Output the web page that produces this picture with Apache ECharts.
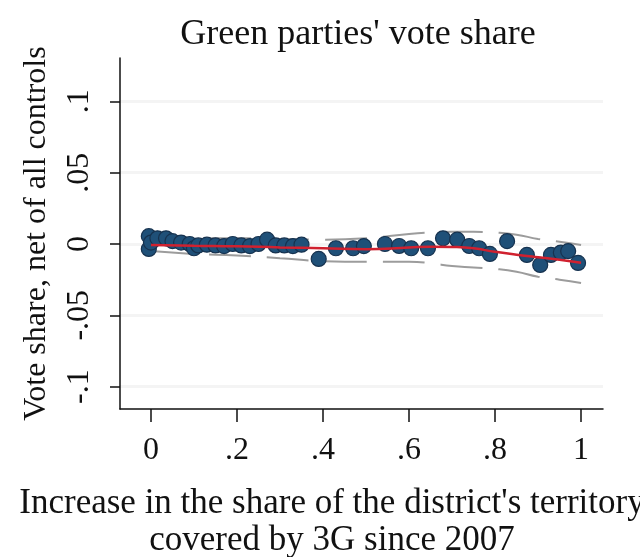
<!DOCTYPE html>
<html>
<head>
<meta charset="utf-8">
<script src="https://cdn.jsdelivr.net/npm/echarts@6/dist/echarts.min.js"></script>
<style>
html,body{margin:0;padding:0;background:#fff;}
#chart{width:640px;height:557px;}
</style>
</head>
<body>
<div id="chart"></div>
<script>
// Binned residual vote share vs. increase in 3G coverage
const pointX = [-0.005, -0.005, 0.0, 0.015, 0.035, 0.05, 0.07, 0.09, 0.1, 0.11, 0.13, 0.15, 0.17, 0.19, 0.21, 0.23, 0.25, 0.27, 0.29, 0.31, 0.33, 0.35, 0.39, 0.43, 0.47, 0.495, 0.544, 0.577, 0.605, 0.644, 0.679, 0.712, 0.74, 0.763, 0.788, 0.828, 0.874, 0.905, 0.93, 0.953, 0.97, 0.993];
const pointY = [0.0055, -0.0035, 0.001, 0.004, 0.004, 0.002, 0.001, 0.0, -0.003, -0.001, -0.0005, -0.001, -0.0015, 0.0, -0.001, -0.0015, 0.0, 0.003, -0.001, -0.001, -0.0015, -0.0005, -0.0105, -0.003, -0.003, -0.0015, 0.0, -0.0014, -0.003, -0.003, 0.004, 0.003, -0.0014, -0.003, -0.007, 0.002, -0.0077, -0.0147, -0.0077, -0.006, -0.005, -0.0133];

// Local fit and its confidence band
const fitX = [0, 0.1, 0.2, 0.3, 0.4, 0.5, 0.6, 0.65, 0.7, 0.75, 0.8, 0.85, 0.9, 0.95, 1.0];
const fitY = [-0.0007, -0.0012, -0.0016, -0.0024, -0.003, -0.0037, -0.0025, -0.0019, -0.0021, -0.003, -0.0055, -0.0075, -0.0093, -0.011, -0.0131];
const ciUpper = [0.004, 0.004, 0.004, 0.0035, 0.003, 0.004, 0.007, 0.008, 0.0085, 0.0085, 0.008, 0.0065, 0.0035, 0.0015, -0.0007];
const ciLower = [-0.005, -0.007, -0.008, -0.010, -0.012, -0.0125, -0.0125, -0.0135, -0.0155, -0.0165, -0.0175, -0.0195, -0.023, -0.025, -0.0273];

const xTicks = [0, 0.2, 0.4, 0.6, 0.8, 1];
const yTicks = [-0.1, -0.05, 0, 0.05, 0.1];

const titleText = "Green parties' vote share";
const xTitle = "Increase in the share of the district's territory\ncovered by 3G since 2007";
const yTitle = "Vote share, net of all controls";

function stataNum(v) {
  if (Math.abs(v) < 1e-9) return '0';
  let s = String(Math.round(v * 1000) / 1000);
  return s.replace(/^(-?)0\./, '$1.');
}

const serif = '"Liberation Serif", "DejaVu Serif", serif';
const pts = pointX.map((x, i) => [x, pointY[i]]);
const pair = (ys) => fitX.map((x, i) => [x, ys[i]]);

const chart = echarts.init(document.getElementById('chart'), null, {renderer: 'canvas'});
chart.setOption({
  animation: false,
  backgroundColor: '#ffffff',
  title: [
    {text: titleText, left: 353, top: 12, textAlign: 'center',
     textStyle: {fontFamily: serif, fontSize: 36, fontWeight: 'normal', color: '#111'}},
    {text: xTitle, left: 327, top: 480, textAlign: 'center',
     textStyle: {fontFamily: serif, fontSize: 35, fontWeight: 'normal', color: '#111', lineHeight: 37}}
  ],
  grid: {left: 120, right: 37, top: 58, bottom: 148, containLabel: false},
  xAxis: {
    type: 'value', min: -0.072, max: 1.051,
    axisLine: {show: true, onZero: false, lineStyle: {color: '#111', width: 1.5}},
    axisTick: {show: true, customValues: xTicks, length: 13, lineStyle: {color: '#111', width: 1.5}},
    axisLabel: {customValues: xTicks, formatter: stataNum, margin: 26,
      fontFamily: serif, fontSize: 32, color: '#111'},
    splitLine: {show: false}
  },
  yAxis: {
    type: 'value', min: -0.1157, max: 0.1304,
    name: yTitle, nameLocation: 'middle', nameGap: 67,
    nameTextStyle: {fontFamily: serif, fontSize: 32, color: '#111'},
    axisLine: {show: true, onZero: false, lineStyle: {color: '#111', width: 1.5}},
    axisTick: {show: true, customValues: yTicks, length: 10, lineStyle: {color: '#111', width: 1.5}},
    axisLabel: {customValues: yTicks, formatter: stataNum, rotate: 90, margin: 24,
      fontFamily: serif, fontSize: 32, color: '#111'},
    splitLine: {show: true, lineStyle: {color: '#f4f4f4', width: 3}}
  },
  series: [
    {type: 'line', data: pair(ciUpper), symbol: 'none', smooth: true, z: 1,
     lineStyle: {color: '#9c9c9c', width: 2, type: [42, 16]}},
    {type: 'line', data: pair(ciLower), symbol: 'none', smooth: true, z: 1,
     lineStyle: {color: '#9c9c9c', width: 2, type: [42, 16]}},
    {type: 'scatter', data: pts, symbolSize: 15, z: 2,
     itemStyle: {color: '#1f5078', borderColor: '#16324f', borderWidth: 1.2, opacity: 1}},
    {type: 'line', data: pair(fitY), symbol: 'none', smooth: true, z: 3,
     lineStyle: {color: '#d0212f', width: 2.5}}
  ]
});
</script>
</body>
</html>
